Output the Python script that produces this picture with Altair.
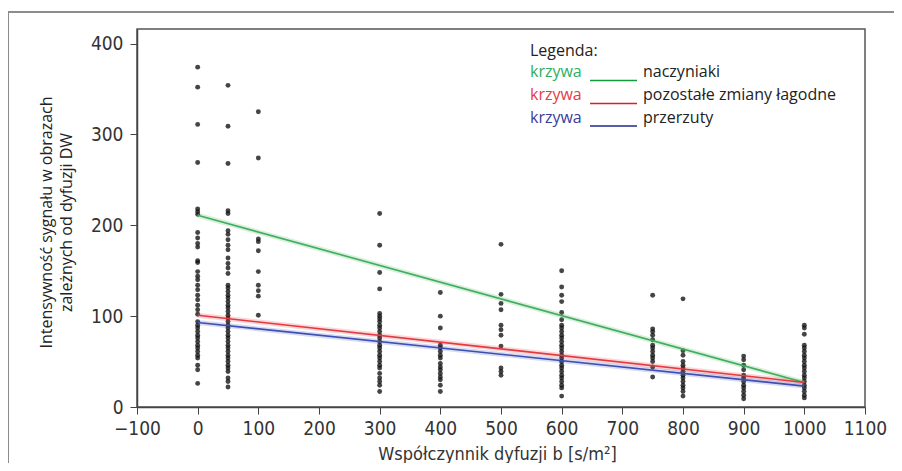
import altair as alt
import pandas as pd

# ---- data ----
b_values = [0, 50, 100, 300, 400, 500, 600, 750, 800, 900, 1000]
signal_by_b = [
    [374, 352, 311, 269, 218, 215, 212, 192, 186, 180, 176, 161, 159, 149, 144, 140, 134, 129,
     123, 118, 112, 107, 102, 94, 90, 87, 83, 79, 76, 72, 68, 65, 61, 57, 54, 46, 41, 26],
    [354, 309, 268, 216, 213, 194, 190, 184, 178, 173, 164, 158, 153, 147, 134, 131, 127, 123,
     120, 116, 112, 109, 105, 101, 98, 94, 90, 87, 83, 79, 76, 72, 68, 65, 61, 57, 54, 50, 46,
     43, 39, 32, 28, 22],
    [325, 274, 185, 182, 172, 149, 134, 128, 122, 101],
    [213, 178, 148, 130, 103, 100, 97, 94, 90, 87, 83, 79, 76, 72, 68, 65, 61, 57, 54, 50, 46,
     43, 37, 32, 28, 24, 17],
    [126, 100, 87, 68, 65, 61, 57, 54, 48, 44, 41, 37, 33, 30, 24, 17],
    [179, 124, 114, 107, 90, 85, 79, 67, 43, 39, 35],
    [150, 132, 123, 116, 104, 96, 90, 87, 83, 79, 76, 72, 68, 65, 61, 57, 54, 50, 46, 43, 39,
     35, 32, 28, 24, 21, 12],
    [123, 86, 83, 79, 74, 68, 65, 61, 57, 54, 50, 44, 33],
    [119, 62, 57, 50, 46, 43, 39, 35, 32, 28, 24, 21, 17, 12],
    [56, 52, 46, 41, 35, 32, 28, 24, 21, 17, 13, 9],
    [90, 87, 80, 68, 65, 61, 57, 54, 50, 46, 43, 39, 35, 32, 28, 24, 21, 17, 13, 10],
]

trend_b = [0, 1000]
trend_names = ["naczyniaki", "pozostałe zmiany łagodne", "przerzuty"]
trend_values = [[211, 27], [101, 27], [93, 23]]
trend_colors = ["#3fae5c", "#e5383f", "#3c4fb4"]
legend_text_colors = ["#2fae62", "#e83a45", "#3a3d9c"]
legend_line_colors = ["#139a3c", "#e31b23", "#1f2a8c"]
legend_title = "Legenda:"
legend_word = "krzywa"

x_ticks = list(range(-100, 1101, 100))
y_ticks = [0, 100, 200, 300, 400]
x_title = "Współczynnik dyfuzji b [s/m²]"
y_title = ["Intensywność sygnału w obrazach", "zależnych od dyfuzji DW"]

NARROW = "Liberation Sans Narrow, DejaVu Sans Condensed, Liberation Sans, sans-serif"
REG = "Open Sans, Noto Sans, sans-serif"

# ---- tables ----
pts = pd.DataFrame(
    [(b, v) for b, vals in zip(b_values, signal_by_b) for v in vals],
    columns=["b", "signal"],
)
trend = pd.DataFrame(
    [(n, b, v, i) for i, (n, vals) in enumerate(zip(trend_names, trend_values))
     for b, v in zip(trend_b, vals)],
    columns=["name", "b", "value", "order"],
)

xscale = alt.Scale(domain=[-100, 1100], nice=False, zero=False)
yscale = alt.Scale(domain=[0, 416], nice=False)

xaxis = alt.Axis(
    values=x_ticks, format="d", title=x_title, grid=False,
    labelFont=NARROW, labelFontSize=19, labelColor="#333", labelPadding=5,
    tickSize=7, tickColor="#444", domainColor="#444", domainWidth=1.5,
    titleFont=NARROW, titleFontSize=18, titleFontWeight="normal", titleColor="#333",
    titleX=360, titleY=38, titleBaseline="top", titleAnchor="middle",
    labelFlush=False, labelOverlap=False,
)
yaxis = alt.Axis(
    values=y_ticks, format="d", title=y_title, grid=False,
    labelFont=NARROW, labelFontSize=19, labelColor="#333", labelPadding=7,
    tickSize=7, tickColor="#444", domainColor="#444", domainWidth=1.5,
    titleFont=REG, titleFontSize=16, titleFontWeight="normal", titleColor="#222",
    titleAngle=270, titleX=-99, titleY=193, titleBaseline="top", titleAlign="center",
    titleLineHeight=20, labelFlush=False,
)

one = pd.DataFrame({"a": [0]})
frame_top = alt.Chart(one).mark_rule(color="#8c8c8c", strokeWidth=2).encode(
    x=alt.value(-129), x2=alt.value(760), y=alt.value(-17)
)
frame_left = alt.Chart(one).mark_rule(color="#8c8c8c", strokeWidth=2).encode(
    x=alt.value(-129), y=alt.value(-17), y2=alt.value(440)
)

points = alt.Chart(pts).mark_circle(size=24, color="#111", opacity=0.78).encode(
    x=alt.X("b:Q", scale=xscale, axis=xaxis),
    y=alt.Y("signal:Q", scale=yscale, axis=yaxis),
)

color_scale = alt.Scale(domain=trend_names, range=trend_colors)
halo = alt.Chart(trend).mark_line(strokeWidth=5, opacity=0.2).encode(
    x=alt.X("b:Q", scale=xscale),
    y=alt.Y("value:Q", scale=yscale),
    color=alt.Color("name:N", scale=color_scale, legend=None),
    detail="name:N",
)
lines = alt.Chart(trend).mark_line(strokeWidth=1.6).encode(
    x=alt.X("b:Q", scale=xscale),
    y=alt.Y("value:Q", scale=yscale),
    color=alt.Color("name:N", scale=color_scale, legend=None),
    detail="name:N",
)

legend_layers = [
    alt.Chart(one).mark_text(
        text=legend_title, font=REG, fontSize=16, color="#222",
        align="left", baseline="alphabetic"
    ).encode(x=alt.value(393), y=alt.value(26.5))
]
row_base = [47.5, 70.5, 93.5]
row_line = [51.5, 74.5, 97]
for i in range(3):
    legend_layers.append(
        alt.Chart(one).mark_text(
            text=legend_word, font=REG, fontSize=16, color=legend_text_colors[i],
            align="left", baseline="alphabetic"
        ).encode(x=alt.value(393), y=alt.value(row_base[i]))
    )
    legend_layers.append(
        alt.Chart(one).mark_rule(color=legend_line_colors[i], strokeWidth=1.5).encode(
            x=alt.value(453), x2=alt.value(500), y=alt.value(row_line[i])
        )
    )
    legend_layers.append(
        alt.Chart(one).mark_text(
            text=trend_names[i], font=REG, fontSize=16, color="#222",
            align="left", baseline="alphabetic"
        ).encode(x=alt.value(506), y=alt.value(row_base[i]))
    )

chart = alt.layer(frame_top, frame_left, points, halo, lines, *legend_layers).properties(
    width=728,
    height=378,
    autosize=alt.AutoSizeParams(type="none"),
    padding={"left": 129, "top": 21, "right": 29, "bottom": 56},
    background="white",
).configure_view(stroke="#555", strokeWidth=1.5)

chart.save("out.html", embed_options={"renderer": "svg", "actions": False})
